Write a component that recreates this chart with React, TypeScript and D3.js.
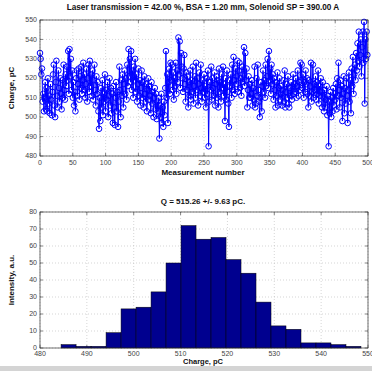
import React from 'react';
import * as d3 from 'd3';

const charge: number[] = [
  533, 530, 522, 525, 508, 512, 503, 510, 518, 504,
  515, 503, 520, 507, 511, 502, 517, 509, 501, 513,
  522, 527, 506, 500, 518, 529, 511, 505, 524, 515,
  508, 520, 512, 504, 519, 510, 527, 514, 509, 522,
  516, 526, 519, 534, 512, 535, 521, 530, 514, 524,
  510, 518, 506, 513, 503, 520, 524, 511, 517, 525,
  509, 521, 515, 526, 512, 519, 528, 514, 522, 510,
  517, 525, 508, 520, 527, 513, 529, 516, 522, 511,
  524, 509, 519, 527, 514, 506, 521, 512, 518, 503,
  494, 510, 498, 515, 505, 519, 501, 512, 508, 522,
  503, 514, 509, 518, 500, 511, 520, 506, 515, 502,
  512, 497, 516, 505, 496, 510, 518, 503, 513, 495,
  508, 526, 514, 500, 519, 511, 522, 505, 517, 524,
  512, 520, 509, 527, 516, 535, 521, 530, 518, 534,
  514, 524, 510, 526, 519, 530, 513, 522, 508, 517,
  525, 511, 519, 506, 515, 524, 510, 518, 505, 521,
  512, 508, 517, 503, 514, 520, 509, 516, 511, 502,
  518, 507, 513, 500, 510, 515, 504, 512, 499, 508,
  503, 510, 489, 506, 500, 512, 497, 505, 495, 508,
  501, 515, 534, 510, 522, 497, 518, 525, 512, 528,
  519, 527, 514, 523, 509, 520, 516, 528, 512, 524,
  518, 541, 522, 539, 515, 533, 526, 520, 513, 525,
  532, 517, 508, 523, 514, 521, 505, 518, 511, 524,
  509, 519, 513, 526, 507, 516, 521, 510, 528, 514,
  520, 506, 517, 523, 511, 527, 515, 508, 519, 513,
  522, 510, 516, 505, 520, 512, 524, 485, 508, 518,
  514, 526, 509, 520, 515, 511, 523, 506, 517, 521,
  510, 519, 505, 525, 513, 518, 508, 522, 515, 526,
  511, 517, 498, 520, 509, 524, 513, 507, 495, 519,
  516, 522, 510, 527, 514, 531, 519, 512, 525, 517,
  521, 529, 513, 524, 528, 515, 520, 511, 526, 518,
  522, 536, 516, 533, 519, 525, 505, 514, 521, 510,
  517, 510, 512, 519, 506, 515, 509, 526, 505, 507,
  520, 511, 527, 514, 508, 500, 510, 518, 503, 516,
  524, 513, 519, 510, 527, 516, 521, 530, 515, 534,
  519, 525, 512, 527, 517, 522, 509, 520, 514, 505,
  518, 511, 523, 506, 515, 520, 509, 516, 512, 506,
  514, 519, 508, 524, 505, 513, 517, 510, 521, 507,
  505, 515, 511, 518, 509, 516, 522, 512, 517, 513,
  520, 510, 516, 524, 511, 518, 514, 528, 519, 527,
  515, 522, 510, 518, 513, 524, 517, 520, 512, 505,
  519, 511, 516, 528, 508, 513, 527, 510, 517, 514,
  521, 509, 518, 512, 524, 507, 516, 511, 520, 513,
  505, 518, 510, 503, 514, 505, 509, 516, 501, 511,
  485, 508, 502, 513, 500, 510, 503, 515, 506, 512,
  509, 517, 504, 520, 511, 528, 514, 505, 519, 510,
  516, 498, 512, 521, 502, 515, 507, 520, 511, 497,
  514, 523, 508, 519, 502, 525, 516, 531, 512, 522,
  527, 519, 533, 524, 538, 529, 544, 526, 532, 540,
  521, 536, 544, 528, 549, 507, 540, 530, 544, 532,
];

// histogram counts (20 bins)
const histCounts = [2, 1, 1, 9, 23, 24, 33, 50, 72, 64, 65, 52, 44, 27, 13, 11, 3, 3, 2, 1];
const binStart = 484.5;
const binWidth = 3.2;

const topXTicks = [0, 50, 100, 150, 200, 250, 300, 350, 400, 450, 500];
const topYTicks = [480, 490, 500, 510, 520, 530, 540, 550];
const botXTicks = [480, 490, 500, 510, 520, 530, 540, 550];
const botYTicks = [0, 10, 20, 30, 40, 50, 60, 70, 80];

const topTitle = 'Laser transmission = 42.00 %, BSA = 1.20 mm, Solenoid SP = 390.00 A';
const botTitle = 'Q = 515.26 +/- 9.63 pC.';

const W = 372;
const H = 371;
const font = 'Liberation Sans, Arial, Helvetica, sans-serif';
const left = 40;
const right = 368;

const Axes = ({ x, y, xTicks, yTicks, top, bottom, xLabelDy }: any) => (
  <g fontFamily={font} fontSize={7} fill="#444">
    {xTicks.map((t: number) => (
      <g key={'gx' + t}>
        <line x1={x(t)} x2={x(t)} y1={top} y2={bottom} stroke="#bbb" strokeWidth={0.6} strokeDasharray="1,2" />
        <line x1={x(t)} x2={x(t)} y1={bottom} y2={bottom - 3} stroke="#333" strokeWidth={0.6} />
        <line x1={x(t)} x2={x(t)} y1={top} y2={top + 3} stroke="#333" strokeWidth={0.6} />
        <text x={x(t)} y={bottom + xLabelDy} textAnchor="middle">{t}</text>
      </g>
    ))}
    {yTicks.map((t: number) => (
      <g key={'gy' + t}>
        <line x1={left} x2={right} y1={y(t)} y2={y(t)} stroke="#bbb" strokeWidth={0.6} strokeDasharray="1,2" />
        <line x1={left} x2={left + 3} y1={y(t)} y2={y(t)} stroke="#333" strokeWidth={0.6} />
        <line x1={right} x2={right - 3} y1={y(t)} y2={y(t)} stroke="#333" strokeWidth={0.6} />
        <text x={left - 3} y={y(t) + 2.2} textAnchor="end">{t}</text>
      </g>
    ))}
  </g>
);

export default function App() {
  // top panel
  const tTop = 20;
  const tBot = 156;
  const x1 = d3.scaleLinear().domain([0, 500]).range([left, right]);
  const y1 = d3.scaleLinear().domain([480, 550]).range([tBot, tTop]);
  const line = d3.line<number>().x((_, i) => x1(i)).y((d) => y1(d));

  // bottom panel
  const bTop = 212;
  const bBot = 348;
  const x2 = d3.scaleLinear().domain([480, 550]).range([left, right]);
  const y2 = d3.scaleLinear().domain([0, 80]).range([bBot, bTop]);

  return (
    <div style={{ position: 'absolute', left: 0, top: 0 }}>
      <svg width={W} height={H} style={{ display: 'block', background: '#fff' }}>
        <Axes x={x1} y={y1} xTicks={topXTicks} yTicks={topYTicks} top={tTop} bottom={tBot} xLabelDy={9} />
        <path d={line(charge) || ''} fill="none" stroke="#0000ff" strokeWidth={1} />
        {charge.map((d, i) => (
          <circle key={i} cx={x1(i)} cy={y1(d)} r={2.8} fill="none" stroke="#0000ff" strokeWidth={1} />
        ))}
        <rect x={left} y={tTop} width={right - left} height={tBot - tTop} fill="none" stroke="#333" strokeWidth={0.7} />
        <text x={203} y={10} textAnchor="middle" fontFamily={font} fontWeight="bold" fontSize={8.2} fill="#111">{topTitle}</text>
        <text x={203} y={175} textAnchor="middle" fontFamily={font} fontWeight="bold" fontSize={8} fill="#111">Measurement number</text>
        <text transform={`translate(14,${(tTop + tBot) / 2}) rotate(-90)`} textAnchor="middle" fontFamily={font} fontWeight="bold" fontSize={8} fill="#111">Charge, pC</text>

        <Axes x={x2} y={y2} xTicks={botXTicks} yTicks={botYTicks} top={bTop} bottom={bBot} xLabelDy={8} />
        {histCounts.map((c, i) => (
          <rect key={'b' + i}
            x={x2(binStart + i * binWidth)}
            y={y2(c)}
            width={x2(binStart + (i + 1) * binWidth) - x2(binStart + i * binWidth)}
            height={y2(0) - y2(c)}
            fill="#00008f" stroke="#000" strokeWidth={0.5} />
        ))}
        <rect x={left} y={bTop} width={right - left} height={bBot - bTop} fill="none" stroke="#333" strokeWidth={0.7} />
        <text x={203} y={204} textAnchor="middle" fontFamily={font} fontWeight="bold" fontSize={8} fill="#111">{botTitle}</text>
        <text x={203} y={364} textAnchor="middle" fontFamily={font} fontWeight="bold" fontSize={7.5} fill="#111">Charge, pC</text>
        <text transform={`translate(14,${(bTop + bBot) / 2}) rotate(-90)`} textAnchor="middle" fontFamily={font} fontWeight="bold" fontSize={8} fill="#111">Intensity, a.u.</text>
        <rect x={0} y={366} width={W} height={H - 366} fill="#d4d4d4" />
      </svg>
    </div>
  );
}
